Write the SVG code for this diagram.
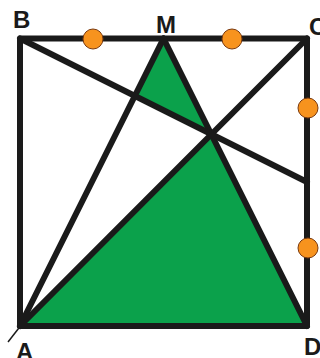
<svg xmlns="http://www.w3.org/2000/svg" width="320" height="358" viewBox="0 0 320 358">
<style>
.ln{stroke:#1a1a1a;stroke-width:6;fill:none;stroke-linecap:round;stroke-linejoin:round}
.fl{fill:#0BA14B;stroke:none}
.dot{fill:#F7931E;stroke:#7a3a10;stroke-width:1}
.lb{font-family:"Liberation Sans",Arial,sans-serif;font-weight:bold;font-size:24px;fill:#1a1a1a}
</style>
<rect width="320" height="358" fill="#ffffff"/>
<g id="fills">
<polygon class="fl" points="20,326 211.3,134.3 307,326"/>
<polygon class="fl" points="163.5,38.5 134.8,96 211.3,134.3"/>
</g>
<g id="connectors">
<line class="ln" x1="20" y1="326" x2="163.5" y2="38.5"/>
<line class="ln" x1="307" y1="326" x2="163.5" y2="38.5"/>
<line class="ln" x1="20" y1="326" x2="307" y2="38.5"/>
<line class="ln" x1="20" y1="38.5" x2="307" y2="182"/>
<line x1="22" y1="324" x2="8" y2="342" stroke="#1a1a1a" stroke-width="1.5"/>
</g>
<g id="square">
<rect class="ln" x="20" y="38.5" width="287" height="287.5" stroke-linecap="square" stroke-linejoin="miter"/>
</g>
<g id="points">
<circle class="dot" cx="93" cy="39" r="10"/>
<circle class="dot" cx="232" cy="39" r="10"/>
<circle class="dot" cx="308" cy="108" r="10"/>
<circle class="dot" cx="308" cy="248" r="10"/>
</g>
<g id="labels">
<text class="lb" x="13" y="28">B</text>
<text class="lb" x="166" y="33" text-anchor="middle">M</text>
<text class="lb" x="309" y="35">C</text>
<text class="lb" x="16" y="360">A</text>
<text class="lb" x="304" y="355">D</text>
</g>
</svg>
